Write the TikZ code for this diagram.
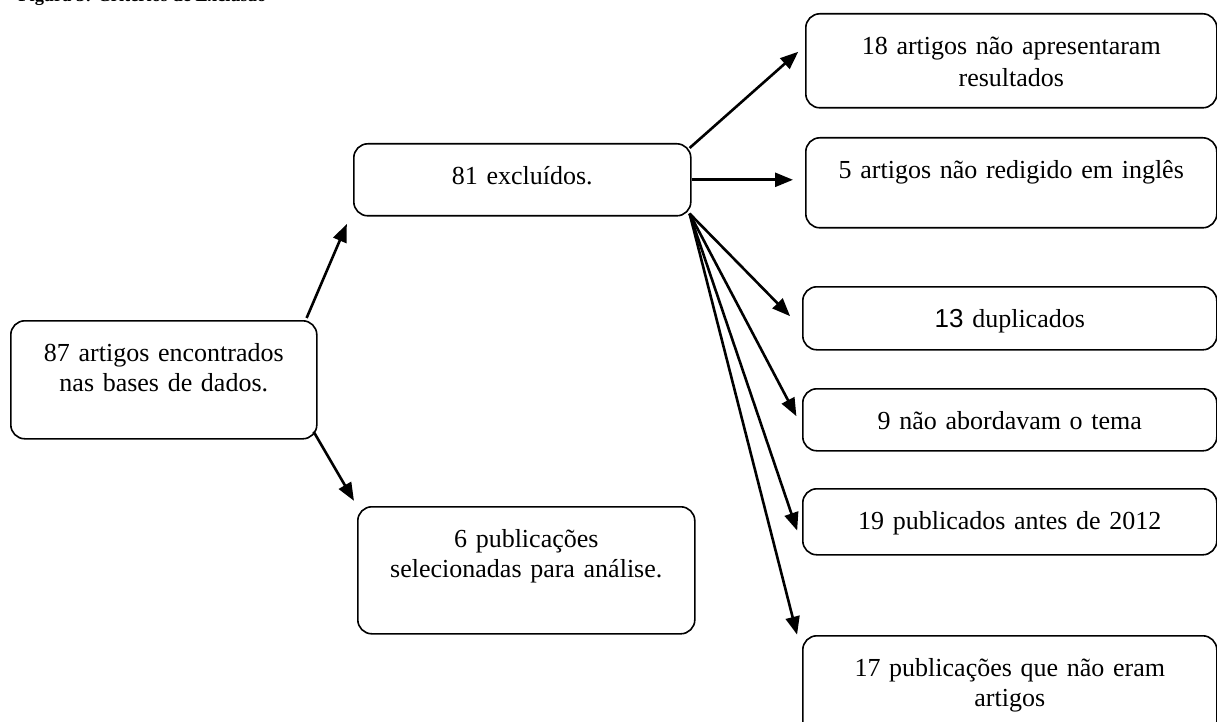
\documentclass[tikz,border=0pt]{standalone}
\usepackage{fontspec}
\setmainfont{Liberation Serif}
\newfontfamily\arialnum{Liberation Sans}
\usetikzlibrary{arrows.meta, calc, positioning}

\begin{document}
\begin{tikzpicture}[
    x=0.5pt, y=-0.5pt,
    font=\fontsize{13}{15}\selectfont,
    stage/.style={draw, line width=0.8pt, rounded corners=7pt, align=center,
                  anchor=north west, inner xsep=4pt, inner ysep=8.5pt,
                  text height=12pt, text depth=#1},
    flow/.style={-{Triangle[length=9pt,width=7pt]}, line width=1.3pt},
]
\useasboundingbox (0,0) rectangle (1217,722);
% Caption, cut off by the top edge of the page
\node[anchor=base west, inner sep=0pt, font=\fontsize{9.2}{11}\selectfont\bfseries] (title) at (18,2) {Figura 3: Critérios de Exclusão};

% Left column: search result, excluded, selected
\node[stage=30pt, text width=145pt]   (found) at (10,320)  {87 artigos encontrados\\nas bases de dados.};
\node[stage=7pt, text width=160.5pt]  (excl)  at (353,143) {81 excluídos.};
\node[stage=34.5pt, text width=160.5pt] (sel) at (357,506) {6 publicações\\selecionadas para análise.};
% Right column: reasons for exclusion (boxes run off the right edge)
\node[stage=18pt, text width=197.5pt] (res)  at (805,13)  {18 artigos não apresentaram\\[1pt]resultados};
\node[stage=16pt, text width=197.5pt] (eng)  at (805,137) {5 artigos não redigido em inglês};
\node[stage=2.5pt, text width=199pt]  (dup)  at (802,286) {{\arialnum 13} duplicados};
\node[stage=2pt, text width=199pt]    (tema) at (802,388) {9 não abordavam o tema};
\node[stage=4pt, text width=199pt]    (ant)  at (802,488) {19 publicados antes de 2012};
\node[stage=21pt, text width=199pt]   (art)  at (802,635) {17 publicações que não eram\\artigos};

% Split of the search result
\draw[flow, shorten >=4pt] ($(found.north east)+(-11,-2)$) -- ($(excl.south west)+(-3,0)$);
\draw[flow, shorten >=3pt] ($(found.south east)+(-4,-8)$) -- (sel.north west);
% Fan of exclusion reasons from the corners of the excluded box
\draw[flow, shorten >=4.5pt] ($(excl.north east)+(-2,5)$) -- ($(res.west)+(0,-15)$);
\draw[flow, shorten >=6pt]   (excl.east) -- (eng.west |- excl.east);
\draw[flow, shorten >=8.5pt] ($(excl.south east)+(-2,-3)$) -- ($(dup.west)+(0,10)$);
\draw[flow, shorten >=6pt]   ($(excl.south east)+(-2,-3)$) -- ($(tema.west)+(0,7)$);
\draw[flow, shorten >=7.5pt] ($(excl.south east)+(-2,-3)$) -- ($(ant.west)+(0,23)$);
\draw[flow, shorten >=10pt]  ($(excl.south east)+(-2,-3)$) -- ($(art.north west)+(0,19)$);
\end{tikzpicture}
\end{document}
